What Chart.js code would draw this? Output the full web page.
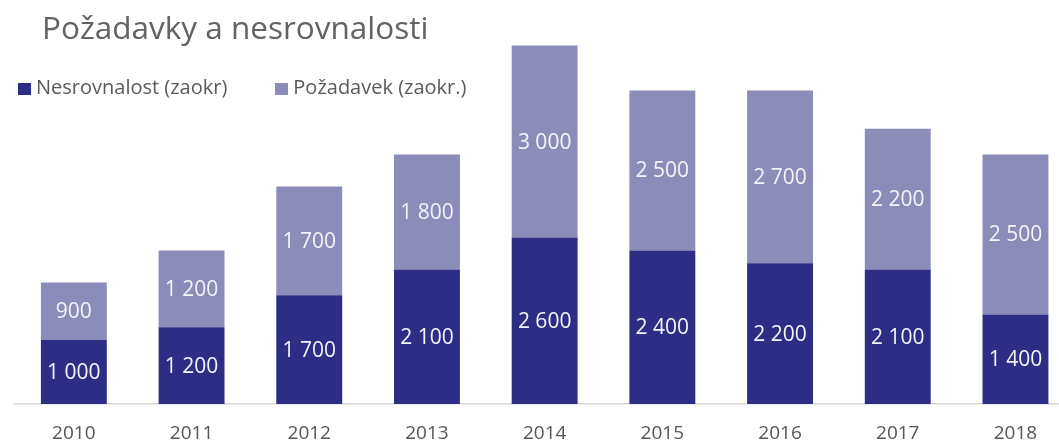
<!DOCTYPE html>
<html>
<head>
<meta charset="utf-8">
<script src="https://cdn.jsdelivr.net/npm/chart.js@4"></script>
<style>
  html, body { margin: 0; padding: 0; background: #fff; }
  #wrap { position: relative; width: 1059px; height: 442px; font-family: "Open Sans", sans-serif; }
  #title { position: absolute; left: 42px; top: 5px; font-size: 31.5px; color: #636363; white-space: nowrap; }
  #legend { position: absolute; left: 18px; top: 73px; font-size: 20px; color: #5a5a5a; white-space: nowrap; }
  #legend span.item { display: inline-block; margin-right: 48px; }
  #legend span.box { display: inline-block; width: 13px; height: 12px; margin-right: 5px; vertical-align: -1px; }
</style>
</head>
<body>
<div id="wrap">
  <canvas id="chart" width="1059" height="442"></canvas>
  <div id="title">Požadavky a nesrovnalosti</div>
  <div id="legend"></div>
</div>
<script>
const years = ['2010', '2011', '2012', '2013', '2014', '2015', '2016', '2017', '2018']
const nesrovnalost = [1000, 1200, 1700, 2100, 2600, 2400, 2200, 2100, 1400]
const pozadavek = [900, 1200, 1700, 1800, 3000, 2500, 2700, 2200, 2500]
const seriesNames = ['Nesrovnalost (zaokr)', 'Požadavek (zaokr.)']
const colors = ['#2e2d86', '#8b8cba']

const fmt = v => String(v).replace(/\B(?=(\d{3})+(?!\d))/g, ' ')

// html legend, chart legend would push the plot area down
document.getElementById('legend').innerHTML = seriesNames.map((name, i) =>
    `<span class="item"><span class="box" style="background:${colors[i]}"></span>${name}</span>`
).join('')

const barLabels = {
    id: 'barLabels',
    afterDatasetsDraw(chart) {
        const ctx = chart.ctx
        ctx.save()
        ctx.font = '21px "Open Sans"'
        ctx.fillStyle = '#f4f4f8'
        ctx.textAlign = 'center'
        ctx.textBaseline = 'middle'
        chart.data.datasets.forEach((ds, di) => {
            chart.getDatasetMeta(di).data.forEach((bar, i) => {
                ctx.fillText(fmt(ds.data[i].y), bar.x, (bar.y + bar.base) / 2 + 1)
            })
        })
        ctx.restore()
    }
}

new Chart(document.getElementById('chart'), {
    type: 'bar',
    data: {
        datasets: [
            {
                label: seriesNames[0],
                data: nesrovnalost.map((v, i) => ({x: i, y: v})),
                backgroundColor: colors[0],
            }, {
                label: seriesNames[1],
                data: pozadavek.map((v, i) => ({x: i, y: v})),
                backgroundColor: colors[1],
            }
        ]
    },
    options: {
        responsive: false,
        animation: false,
        barPercentage: 0.56,
        categoryPercentage: 1,
        layout: {padding: {top: 20, left: 15, right: 0, bottom: 0}},
        plugins: {
            legend: {display: false},
            tooltip: {enabled: false},
        },
        scales: {
            x: {
                type: 'linear',
                stacked: true,
                offset: false,
                min: -0.5,
                max: 8.37,
                grid: {display: false},
                border: {color: '#d6d6d6', width: 1.5},
                afterFit: scale => { scale.height = 38 },
                ticks: {
                    stepSize: 1,
                    includeBounds: false,
                    autoSkip: false,
                    maxRotation: 0,
                    padding: 10,
                    color: '#555',
                    font: {family: 'Open Sans', size: 19},
                    callback: v => years[v] ?? '',
                },
            },
            y: {
                stacked: true,
                display: false,
                min: 0,
                max: 6000,
            },
        },
    },
    plugins: [barLabels],
})
</script>
</body>
</html>
